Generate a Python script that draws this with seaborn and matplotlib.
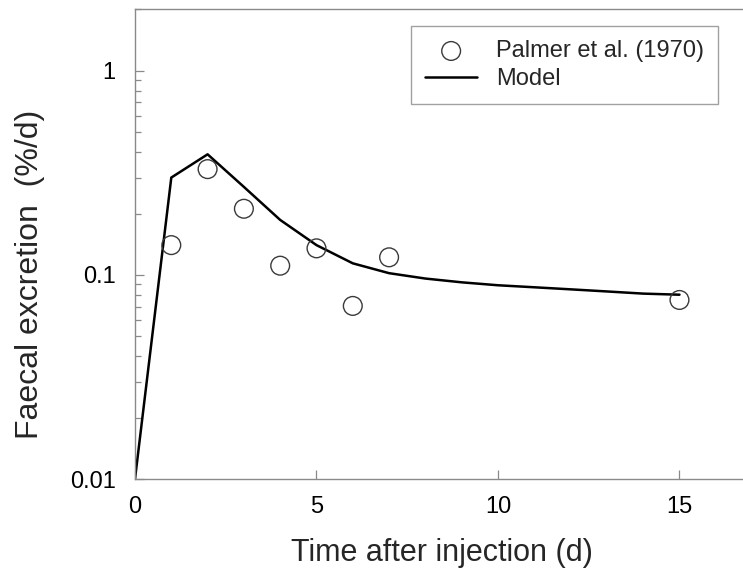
import matplotlib
matplotlib.use("Agg")
import matplotlib.pyplot as plt
import seaborn as sns
import pandas as pd
from matplotlib.ticker import LogLocator, FixedLocator, NullFormatter, FixedFormatter

# ---- data ----
obs_time = [1, 2, 3, 4, 5, 6, 7, 15]
obs_value = [0.140, 0.330, 0.211, 0.111, 0.135, 0.0705, 0.122, 0.0754]

model_time = [0, 1, 2, 3, 4, 5, 6, 7, 8, 9, 10, 11, 12, 13, 14, 15]
model_value = [0.01, 0.30, 0.39, 0.27, 0.186, 0.14, 0.114, 0.102, 0.096, 0.092,
               0.089, 0.087, 0.085, 0.083, 0.081, 0.080]

x_ticks = [0, 5, 10, 15]
y_ticks = [0.01, 0.1, 1]
y_tick_labels = ["0.01", "0.1", "1"]

sns.set_style("ticks")
plt.rcParams['font.family'] = ['Liberation Sans', 'DejaVu Sans']

fig = plt.figure(figsize=(7.43, 5.69), dpi=100)
ax = fig.add_axes([135/743, 1 - 479/569, (743 - 135)/743, (479 - 9)/569])

obs = pd.DataFrame({"t": obs_time, "v": obs_value})
mod = pd.DataFrame({"t": model_time, "v": model_value})

sns.lineplot(data=mod, x="t", y="v", ax=ax, color="black", lw=1.8,
             label="Model", zorder=2)
sns.scatterplot(data=obs, x="t", y="v", ax=ax, marker="o", s=13.5**2,
                facecolor="none", edgecolor="#3a3a3a", linewidth=1.0,
                label="Palmer et al. (1970)", zorder=3)

ax.set_yscale("log")
ax.set_xlim(0, 16.75)
ax.set_ylim(0.01, 2.01)

ax.xaxis.set_major_locator(FixedLocator(x_ticks))
ax.yaxis.set_major_locator(FixedLocator(y_ticks))
ax.yaxis.set_major_formatter(FixedFormatter(y_tick_labels))
ax.yaxis.set_minor_locator(LogLocator(base=10, subs=range(2, 10)))
ax.yaxis.set_minor_formatter(NullFormatter())

spine_c = "#8a8a8a"
for s in ["left", "bottom", "top"]:
    ax.spines[s].set_color(spine_c)
    ax.spines[s].set_linewidth(1.0)
ax.spines["right"].set_visible(False)

ax.tick_params(axis="x", which="major", direction="in", length=6.5,
               width=0.9, color=spine_c, labelsize=17, pad=12, labelcolor="black")
ax.tick_params(axis="y", which="major", direction="in", length=6.5,
               width=0.9, color=spine_c, labelsize=17, pad=14, labelcolor="black")
ax.tick_params(axis="y", which="minor", direction="in", length=4.3,
               width=0.9, color=spine_c)
ax.tick_params(axis="x", which="minor", bottom=False)

ax.set_xlabel("Time after injection (d)", fontsize=22)
ax.xaxis.set_label_coords(0.505, -0.125)
ax.set_ylabel("Faecal excretion  (%/d)", fontsize=23)
ax.yaxis.set_label_coords(-0.148, 0.436)

h, l = ax.get_legend_handles_labels()
order = [l.index("Palmer et al. (1970)"), l.index("Model")]
leg = ax.legend([h[i] for i in order], [l[i] for i in order],
                loc="upper left", bbox_to_anchor=((411 - 135)/608, (479 - 26)/470),
                borderaxespad=0, fontsize=17, frameon=True, fancybox=False,
                edgecolor=spine_c, handlelength=2.2, handletextpad=0.8,
                borderpad=0.6, labelspacing=0.24)
leg.get_frame().set_linewidth(1.0)

fig.savefig("out.png", dpi=100)
